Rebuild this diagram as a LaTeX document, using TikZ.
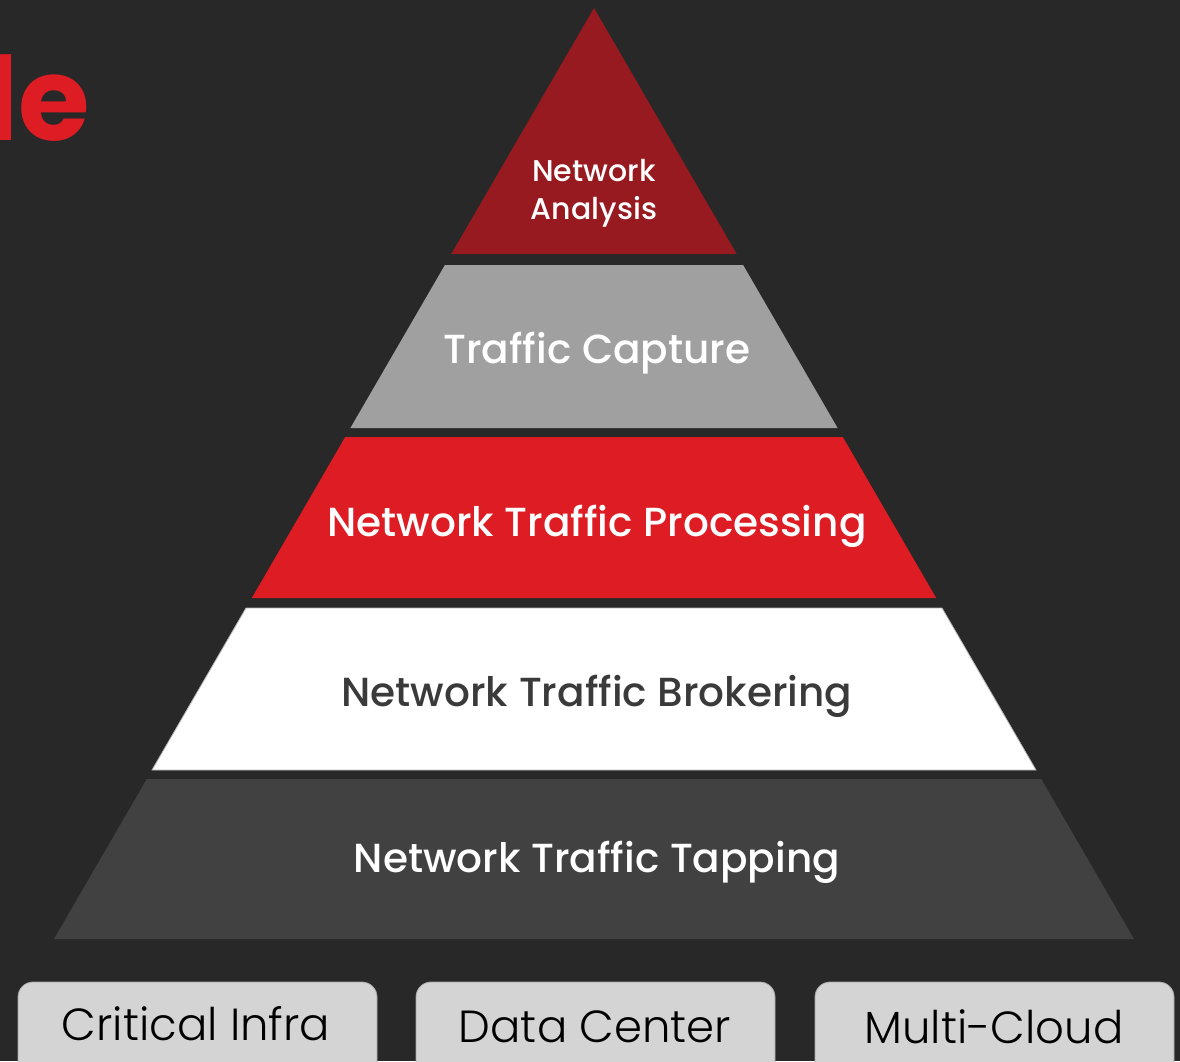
\documentclass[tikz,border=0pt]{standalone}
\usepackage{fontspec}
\setmainfont{Poppins}
\newfontfamily\pmed{Poppins Medium}
\newfontfamily\plight{Poppins Light}
\definecolor{bg}{HTML}{282828}
\definecolor{darkred}{HTML}{961A1F}
\definecolor{midgray}{HTML}{A0A0A0}
\definecolor{brand}{HTML}{DD1C24}
\definecolor{slate}{HTML}{414141}
\definecolor{boxgray}{HTML}{D4D4D4}
\definecolor{textdark}{HTML}{3A3A3A}
\tikzset{
  layertext/.style={text=white, align=center, inner sep=0pt},
  boxstyle/.style={fill=boxgray, draw=gray!70, line width=0.8pt, rounded corners=15pt},
  boxtext/.style={text=black, inner sep=0pt, font=\plight\fontsize{45}{50}\selectfont}
}
\begin{document}
\begin{tikzpicture}[x=1pt,y=-1pt]
\useasboundingbox (0,0) rectangle (1180,1061);
\clip (0,0) rectangle (1180,1061);
\fill[bg] (0,0) rectangle (1180,1061);
% heading fragment
\node[anchor=base east, text=brand, inner sep=0pt, font=\fontsize{116}{116}\bfseries\selectfont] (head) at (90,140) {le};
% layers
\fill[darkred] (594,8) -- (736.7,254) -- (451.3,254) -- cycle;
\fill[midgray] (444.9,265) -- (743.1,265) -- (837.6,428) -- (350.4,428) -- cycle;
\fill[brand] (345.2,437) -- (842.8,437) -- (936.2,598) -- (251.8,598) -- cycle;
\fill[white, draw=gray!60, line width=0.8pt] (246,608) -- (942,608) -- (1036,770) -- (152,770) -- cycle;
\fill[slate] (146.8,779) -- (1041.2,779) -- (1134,939) -- (54,939) -- cycle;
% layer labels
\node[layertext, font=\pmed\fontsize{30}{38}\selectfont] (l1) at (594,193) {Network\\Analysis};
\node[layertext, font=\pmed\fontsize{40.6}{46}\selectfont] (l2) at (597,353) {Traffic Capture};
\node[layertext, font=\pmed\fontsize{40.6}{46}\selectfont] (l3) at (597,526) {Network Traffic Processing};
\node[layertext, text=textdark, font=\pmed\fontsize{40.6}{46}\selectfont] (l4) at (597,696) {Network Traffic Brokering};
\node[layertext, font=\pmed\fontsize{40.6}{46}\selectfont] (l5) at (597,862) {Network Traffic Tapping};
% bottom boxes
\draw[boxstyle] (18,982) rectangle (377,1090);
\draw[boxstyle] (416,982) rectangle (775,1090);
\draw[boxstyle] (815,982) rectangle (1174,1090);
\node[boxtext] (b1) at (196,1024) {Critical Infra};
\node[boxtext] (b2) at (595,1027) {Data Center};
\node[boxtext] (b3) at (994,1027) {Multi-Cloud};
\end{tikzpicture}
\end{document}
